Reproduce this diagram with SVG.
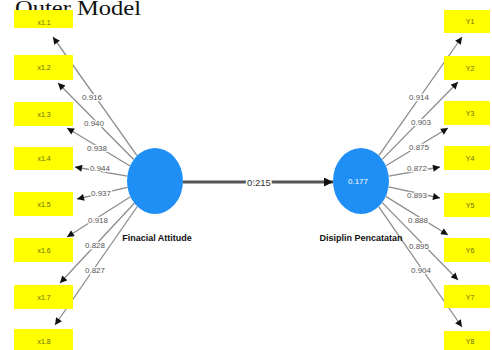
<svg xmlns="http://www.w3.org/2000/svg" width="492" height="350" viewBox="0 0 492 350">
<style>
.box{fill:#ffff00}
.bl{font-family:"Liberation Sans",Arial,sans-serif;font-size:7px;fill:#6b6b10;text-anchor:middle}
.ln{stroke:#8c8c8c;stroke-width:1.3;fill:none;marker-end:url(#ah)}
.lab{font-family:"Liberation Sans",Arial,sans-serif;font-size:8px;fill:#555;text-anchor:middle;stroke:#fff;stroke-width:2.5;paint-order:stroke}
.lv{fill:#1f8ff5}
.nl{font-family:"Liberation Sans",Arial,sans-serif;font-size:9px;font-weight:bold;fill:#111;text-anchor:middle}
</style>
<defs>
<marker id="ah" viewBox="0 0 10 10" refX="10" refY="5" markerWidth="8" markerHeight="7" markerUnits="userSpaceOnUse" orient="auto">
<path d="M0,0 L10,5 L0,10 z" fill="#111"/>
</marker>
<marker id="ah2" viewBox="0 0 10 10" refX="10" refY="5" markerWidth="9" markerHeight="9" markerUnits="userSpaceOnUse" orient="auto">
<path d="M0,0 L10,5 L0,10 z" fill="#111"/>
</marker>
</defs>
<rect width="492" height="350" fill="#fff"/>
<text x="15" y="14.5" font-family="'Liberation Serif','Times New Roman',serif" font-size="21" fill="#111" textLength="126" lengthAdjust="spacingAndGlyphs">Outer Model</text>

<g id="connectors">
<line class="ln" x1="137.0" y1="155.7" x2="53" y2="37"/>
<line class="ln" x1="133.7" y1="159.5" x2="58" y2="83"/>
<line class="ln" x1="130.1" y1="166.0" x2="67" y2="128"/>
<line class="ln" x1="127.3" y1="176.2" x2="75" y2="167"/>
<line class="ln" x1="127.5" y1="187.3" x2="77" y2="199"/>
<line class="ln" x1="130.4" y1="196.7" x2="67" y2="237"/>
<line class="ln" x1="134.3" y1="203.2" x2="60" y2="283"/>
<line class="ln" x1="137.3" y1="206.5" x2="55" y2="325"/>
<line class="ln" x1="378.8" y1="155.6" x2="462" y2="37"/>
<line class="ln" x1="382.2" y1="159.4" x2="458" y2="82"/>
<line class="ln" x1="385.9" y1="165.8" x2="448" y2="128"/>
<line class="ln" x1="388.7" y1="176.1" x2="440" y2="167"/>
<line class="ln" x1="388.5" y1="186.9" x2="440" y2="198"/>
<line class="ln" x1="385.8" y1="196.4" x2="448" y2="235"/>
<line class="ln" x1="382.2" y1="202.6" x2="458" y2="280"/>
<line class="ln" x1="378.7" y1="206.6" x2="462" y2="327"/>
<line x1="183" y1="182" x2="333" y2="182" stroke="#555" stroke-width="2.8" marker-end="url(#ah2)"/>
<text class="lab" x="92" y="100">0.916</text>
<text class="lab" x="94" y="126">0.940</text>
<text class="lab" x="97" y="151">0.938</text>
<text class="lab" x="100" y="171">0.944</text>
<text class="lab" x="101" y="196">0.937</text>
<text class="lab" x="98" y="223">0.918</text>
<text class="lab" x="95" y="248">0.828</text>
<text class="lab" x="95" y="273">0.827</text>
<text class="lab" x="419" y="100">0.914</text>
<text class="lab" x="421" y="125">0.903</text>
<text class="lab" x="419" y="150">0.875</text>
<text class="lab" x="417" y="171">0.872</text>
<text class="lab" x="417" y="198">0.893</text>
<text class="lab" x="418" y="223">0.888</text>
<text class="lab" x="419" y="249">0.895</text>
<text class="lab" x="421" y="273">0.904</text>
<text x="259" y="185.5" font-family="'Liberation Sans',Arial,sans-serif" font-size="9.5" fill="#333" text-anchor="middle" stroke="#fff" stroke-width="3" paint-order="stroke">0.215</text>
</g>

<g id="x1.1"><rect class="box" x="14" y="10" width="59" height="18"/><text class="bl" x="44" y="24.5">x1.1</text></g>
<g id="x1.2"><rect class="box" x="14" y="55" width="59" height="25"/><text class="bl" x="44" y="70">x1.2</text></g>
<g id="x1.3"><rect class="box" x="14" y="102" width="59" height="24"/><text class="bl" x="44" y="117">x1.3</text></g>
<g id="x1.4"><rect class="box" x="14" y="147" width="59" height="23"/><text class="bl" x="44" y="161">x1.4</text></g>
<g id="x1.5"><rect class="box" x="14" y="192" width="59" height="24"/><text class="bl" x="44" y="207">x1.5</text></g>
<g id="x1.6"><rect class="box" x="14" y="238" width="59" height="24"/><text class="bl" x="44" y="253">x1.6</text></g>
<g id="x1.7"><rect class="box" x="14" y="285" width="59" height="24"/><text class="bl" x="44" y="300">x1.7</text></g>
<g id="x1.8"><rect class="box" x="14" y="329" width="59" height="21"/><text class="bl" x="44" y="344">x1.8</text></g>

<g id="Y1"><rect class="box" x="444" y="10" width="46" height="23"/><text class="bl" x="470" y="24">Y1</text></g>
<g id="Y2"><rect class="box" x="444" y="56" width="46" height="24"/><text class="bl" x="470" y="71">Y2</text></g>
<g id="Y3"><rect class="box" x="444" y="101" width="46" height="24"/><text class="bl" x="470" y="116">Y3</text></g>
<g id="Y4"><rect class="box" x="444" y="146" width="46" height="24"/><text class="bl" x="470" y="161">Y4</text></g>
<g id="Y5"><rect class="box" x="444" y="193" width="46" height="24"/><text class="bl" x="470" y="208">Y5</text></g>
<g id="Y6"><rect class="box" x="444" y="238" width="46" height="24"/><text class="bl" x="470" y="253">Y6</text></g>
<g id="Y7"><rect class="box" x="444" y="285" width="46" height="23"/><text class="bl" x="470" y="300">Y7</text></g>
<g id="Y8"><rect class="box" x="444" y="331" width="46" height="19"/><text class="bl" x="470" y="344">Y8</text></g>

<g id="financial-attitude">
<ellipse class="lv" cx="155" cy="181" rx="28" ry="33"/>
<text class="nl" x="157" y="241">Finacial Attitude</text>
</g>
<g id="disiplin-pencatatan">
<ellipse class="lv" cx="361" cy="181" rx="28" ry="33"/>
<text x="358" y="184" font-family="'Liberation Sans',Arial,sans-serif" font-size="8" fill="#fff" text-anchor="middle">0.177</text>
<text class="nl" x="361" y="241">Disiplin Pencatatan</text>
</g>
</svg>
